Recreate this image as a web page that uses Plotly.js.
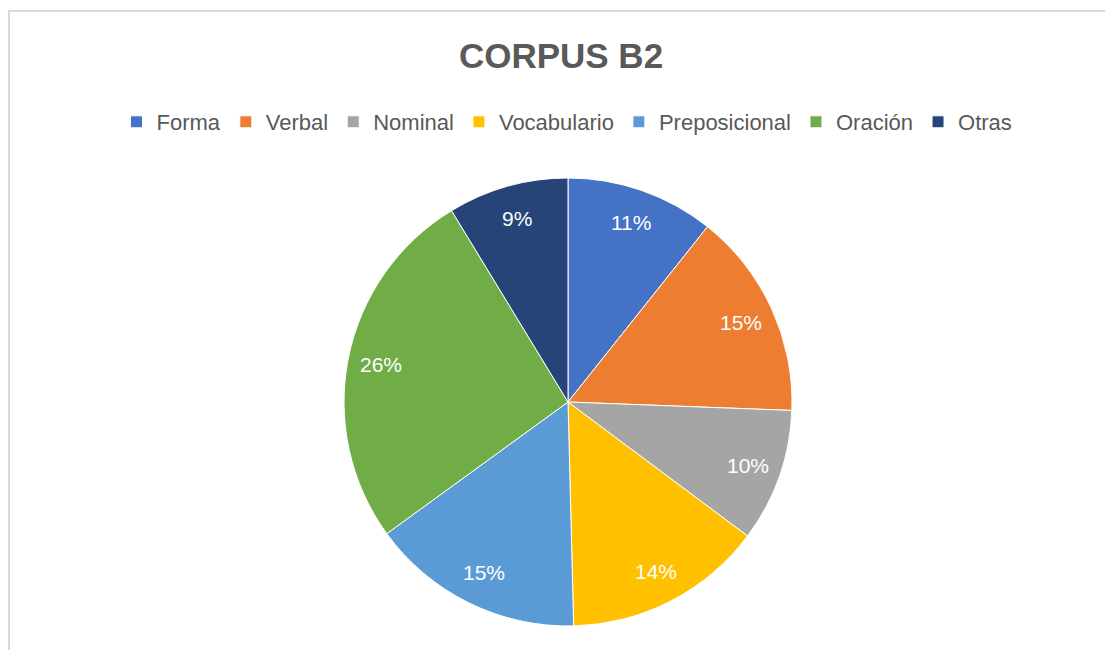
<!DOCTYPE html>
<html>
<head>
<meta charset="utf-8">
<script src="https://cdn.plot.ly/plotly-3.0.1.min.js"></script>
<style>
  html, body { margin: 0; padding: 0; background: #ffffff; overflow: hidden; }
  #chart { position: absolute; left: 0; top: 0; width: 1105px; height: 650px; }
  #frame { position: absolute; left: 8px; top: 10px; width: 1200px; height: 800px;
           border: 2px solid #d9d9d9; pointer-events: none; box-sizing: border-box; }
</style>
</head>
<body>
<div id="chart"></div>
<div id="frame"></div>
<script>
const categories = ["Forma", "Verbal", "Nominal", "Vocabulario", "Preposicional", "Oración", "Otras"];
const values = [10.7, 14.9, 9.6, 14.4, 15.4, 26.3, 8.7];
const colors = ["#4472C4", "#ED7D31", "#A5A5A5", "#FFC000", "#5B9BD5", "#70AD47", "#264478"];
const chartTitle = "CORPUS B2";

const W = 1105, H = 650;
// pie placement (pixels)
const cx = 568, cy = 402, R = 224;
const domain = {
  x: [(cx - R) / W, (cx + R) / W],
  y: [(H - (cy + R)) / H, (H - (cy - R)) / H]
};

const total = values.reduce((a, b) => a + b, 0);
const annotations = [];
let cum = 0;
values.forEach((v, i) => {
  const mid = (cum + v / 2) / total * 2 * Math.PI;
  cum += v;
  const px = cx + 0.85 * R * Math.sin(mid);
  const py = cy - 0.85 * R * Math.cos(mid);
  annotations.push({
    x: px / W, y: 1 - py / H, xref: "paper", yref: "paper",
    text: Math.round(v / total * 100) + "%",
    showarrow: false,
    font: { family: "Liberation Sans, Arial, sans-serif", size: 21, color: "#ffffff" },
    xanchor: "center", yanchor: "middle"
  });
});

const trace = {
  type: "pie",
  labels: categories,
  values: values,
  marker: { colors: colors, line: { color: "#ffffff", width: 1 } },
  sort: false,
  direction: "clockwise",
  rotation: 0,
  textinfo: "none",
  hoverinfo: "label+percent",
  domain: domain
};

const layout = {
  width: W, height: H,
  margin: { l: 0, r: 0, t: 0, b: 0 },
  paper_bgcolor: "#ffffff",
  title: {
    text: "<b>" + chartTitle + "</b>",
    font: { family: "Liberation Sans, Arial, sans-serif", size: 35, color: "#595959" },
    x: 561 / W, xanchor: "center", xref: "paper",
    y: 1 - 56 / H, yanchor: "middle", yref: "paper"
  },
  showlegend: true,
  legend: {
    orientation: "h",
    x: 567 / W, xanchor: "center",
    y: 1 - 122 / H, yanchor: "middle",
    font: { family: "Liberation Sans, Arial, sans-serif", size: 22, color: "#595959" },
    itemclick: false, itemdoubleclick: false,
    traceorder: "normal"
  },
  annotations: annotations
};

Plotly.newPlot("chart", [trace], layout, { displayModeBar: false, staticPlot: true });
</script>
</body>
</html>
